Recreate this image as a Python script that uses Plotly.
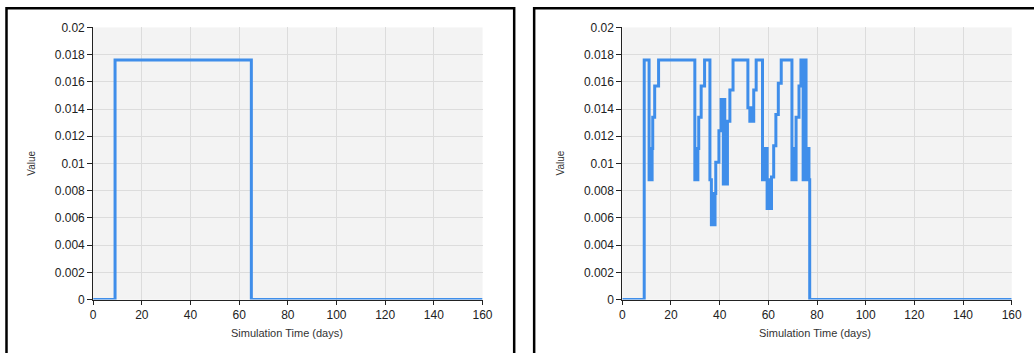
import plotly.graph_objects as go

# ---- data ----
x_ticks = [0, 20, 40, 60, 80, 100, 120, 140, 160]
y_ticks = [0, 0.002, 0.004, 0.006, 0.008, 0.01, 0.012, 0.014, 0.016, 0.018, 0.02]
y_tick_labels = ["0", "0.002", "0.004", "0.006", "0.008", "0.01", "0.012", "0.014", "0.016", "0.018", "0.02"]

left_t = [0, 9, 65, 160]
left_v = [0, 0.0176, 0, 0]

right_t = [0, 9, 11, 11.25, 11.5, 11.75, 12, 12.25, 12.5, 13.3, 14.9,
           29.8, 30.05, 30.3, 30.55, 30.8, 31.05, 31.4, 32.4, 33.8,
           36.0, 36.6, 36.9, 37.2, 37.5, 37.8, 38.1, 38.4, 39.7,
           40.6, 40.9, 41.2, 41.5, 41.8, 42.1, 42.4, 42.7, 43.0, 43.2, 44.2, 45.5,
           51.6, 52.4, 52.7, 53.0, 53.3, 53.6, 54.0, 55.0,
           57.6, 57.9, 58.2, 58.5, 58.8, 59.1, 59.5, 59.8, 60.1, 60.4, 60.7, 61.3, 62.2, 63.1, 64.1, 65.3,
           69.7, 70.0, 70.3, 70.6, 70.9, 71.4, 72.6, 73.4, 73.7, 74.0, 74.3, 74.6, 74.9, 75.2,
           75.5, 75.8, 76.1, 76.4, 76.7, 77.0, 160]
right_v = [0, 0.0176, 0.0088, 0.0111, 0.0088, 0.0111, 0.0088, 0.0111, 0.0134, 0.0157, 0.0176,
           0.0088, 0.0111, 0.0088, 0.0111, 0.0088, 0.0111, 0.0134, 0.0157, 0.0176,
           0.0088, 0.0055, 0.0078, 0.0055, 0.0078, 0.0055, 0.0078, 0.0101, 0.0124,
           0.0147, 0.0124, 0.0147, 0.0085, 0.0147, 0.0108, 0.0085, 0.0108, 0.0085, 0.0131, 0.0154, 0.0176,
           0.0141, 0.0131, 0.0141, 0.0131, 0.0141, 0.0131, 0.0154, 0.0176,
           0.0088, 0.0111, 0.0088, 0.0111, 0.0088, 0.0111, 0.0067, 0.0088, 0.0067, 0.0088, 0.0067, 0.0090, 0.0113, 0.0136, 0.0159, 0.0176,
           0.0088, 0.0111, 0.0088, 0.0111, 0.0088, 0.0134, 0.0157, 0.0176, 0.0157, 0.0176, 0.0088, 0.0176, 0.0111, 0.0176,
           0.0088, 0.0111, 0.0088, 0.0111, 0.0088, 0, 0]

x_title = "Simulation Time (days)"
y_title = "Value"

# ---- figure ----
W, H = 1034, 353
line_color = "#3F8EEA"
FONT = "Liberation Sans, Arial, sans-serif"

# the photographed page is slightly inset/scaled; convert target pixel positions to figure pixels
def fx(px):
    return (px - 3.0) / 0.989

def fy(py):
    return (py - 8.0) / 0.956

def px_x(px):
    return fx(px) / W

def px_y(py):
    return 1 - fy(py) / H

fig = go.Figure()
fig.add_trace(go.Scatter(x=left_t, y=left_v, mode="lines", line=dict(color=line_color, width=3, shape="hv"),
                         xaxis="x", yaxis="y", showlegend=False))
fig.add_trace(go.Scatter(x=right_t, y=right_v, mode="lines", line=dict(color=line_color, width=3, shape="hv"),
                         xaxis="x2", yaxis="y2", showlegend=False))

ydom = [px_y(299.3), px_y(28.3)]
xdom1 = [px_x(93.3), px_x(483.3)]
xdom2 = [px_x(623.3), px_x(1013.3)]

tickfont = dict(family=FONT, size=12, color="#222222")

def xaxis(dom, anchor):
    return dict(domain=dom, anchor=anchor, range=[0, 160], tickvals=x_ticks, ticktext=[str(v) for v in x_ticks],
                showline=True, linecolor="#222222", linewidth=1, ticks="outside", ticklen=4, tickcolor="#222222",
                showgrid=True, gridcolor="#DCDCDC", gridwidth=1, zeroline=False, tickfont=tickfont,
                fixedrange=True)

def yaxis(anchor):
    return dict(domain=ydom, anchor=anchor, range=[0, 0.02], tickvals=y_ticks, ticktext=y_tick_labels,
                showline=True, linecolor="#222222", linewidth=1, ticks="outside", ticklen=5, tickcolor="#222222",
                showgrid=True, gridcolor="#DCDCDC", gridwidth=1, zeroline=False, tickfont=tickfont,
                fixedrange=True)

annotations = []
for cx in (287.5, 816.7):
    annotations.append(dict(text=x_title, xref="paper", yref="paper", x=px_x(cx), y=px_y(333),
                            xanchor="center", yanchor="middle", showarrow=False,
                            font=dict(family=FONT, size=11, color="#333333")))
for cx in (32.0, 561.7):
    annotations.append(dict(text=y_title, xref="paper", yref="paper", x=px_x(cx), y=px_y(163),
                            xanchor="center", yanchor="middle", showarrow=False, textangle=-90,
                            font=dict(family=FONT, size=10, color="#333333")))

fig.update_layout(
    width=W, height=H,
    margin=dict(l=0, r=0, t=0, b=0),
    paper_bgcolor="white",
    plot_bgcolor="#F3F3F3",
    xaxis=xaxis(xdom1, "y"),
    yaxis=yaxis("x"),
    xaxis2=xaxis(xdom2, "y2"),
    yaxis2=yaxis("x2"),
    annotations=annotations,
    shapes=[
        dict(type="rect", xref="paper", yref="paper", x0=px_x(6.5), x1=px_x(515), y0=-0.1, y1=1 - 1.3 / H,
             line=dict(color="black", width=2.5), fillcolor="rgba(0,0,0,0)", layer="above"),
        dict(type="rect", xref="paper", yref="paper", x0=px_x(535), x1=1.1, y0=-0.1, y1=1 - 1.3 / H,
             line=dict(color="black", width=2.5), fillcolor="rgba(0,0,0,0)", layer="above"),
    ],
)

fig.write_html("out.html", config={"displayModeBar": False},
               post_script="document.body.style.margin='0';document.body.style.overflow='hidden';")
